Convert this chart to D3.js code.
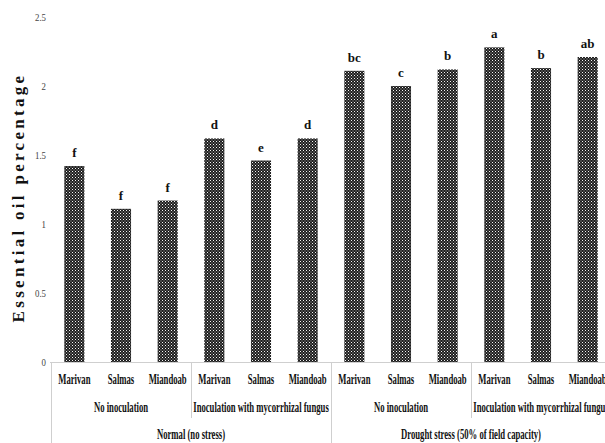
<!DOCTYPE html>
<html>
<head>
<meta charset="utf-8">
<script src="https://cdn.jsdelivr.net/npm/d3@7"></script>
<style>
  html, body { margin: 0; padding: 0; background: #fff; }
  svg { display: block; }
</style>
</head>
<body>
<svg id="chart" width="605" height="443"></svg>
<script>
// Essential oil percentage by ecotype, inoculation and irrigation regime
const ecotypes = ["Marivan", "Salmas", "Miandoab"];
const inoculations = ["No inoculation", "Inoculation with mycorrhizal fungus"];
const regimes = ["Normal (no stress)", "Drought stress (50% of field capacity)"];
const oilValues = [1.42, 1.11, 1.17, 1.62, 1.46, 1.62, 2.11, 2.00, 2.12, 2.28, 2.13, 2.21];
const letters = ["f", "f", "f", "d", "e", "d", "bc", "c", "b", "a", "b", "ab"];
const yTicks = [0, 0.5, 1, 1.5, 2, 2.5];
const yTitle = "Essential oil percentage";

const rows = oilValues.map((v, i) => ({
  id: i,
  ecotype: ecotypes[i % 3],
  inoc: inoculations[Math.floor(i / 3) % 2],
  regime: regimes[Math.floor(i / 6)],
  value: v,
  letter: letters[i]
}));

const svg = d3.select("#chart");
const plotLeft = 51, plotRight = 611, plotTop = 17, plotBase = 362;

const x = d3.scaleBand().domain(rows.map(d => d.id)).range([plotLeft, plotRight])
  .paddingInner(0.57).paddingOuter(0.285);
const step = (plotRight - plotLeft) / rows.length;
const y = d3.scaleLinear().domain([0, 2.5]).range([plotBase, plotTop]);

// Checkered fill used by every bar
const defs = svg.append("defs");
const pat = defs.append("pattern").attr("id", "checker")
  .attr("patternUnits", "userSpaceOnUse").attr("width", 3).attr("height", 3);
pat.append("rect").attr("width", 3).attr("height", 3).attr("fill", "#1e1e1e");
pat.append("rect").attr("x", 0).attr("y", 0).attr("width", 1).attr("height", 1).attr("fill", "#f4f4f4");
pat.append("rect").attr("x", 1.5).attr("y", 1.5).attr("width", 1).attr("height", 1).attr("fill", "#bdbdbd");

// Narrow text drawn by squeezing it horizontally around its anchor point
function narrowText(sel, px, py, f) {
  sel.attr("transform", d => `translate(${px(d)},${py(d)}) scale(${f},1)`)
    .attr("x", 0).attr("y", 0);
}

// Y axis: tick labels only
const yAxis = d3.axisLeft(y).tickValues(yTicks).tickSize(0).tickPadding(0)
  .tickFormat(d => d3.format("")(d));
const yg = svg.append("g").attr("transform", "translate(46,0)").call(yAxis);
yg.select(".domain").remove();
yg.selectAll("text")
  .attr("font-family", "Liberation Serif").attr("font-size", 11)
  .attr("fill", "#444").attr("dy", "0.32em")
  .attr("transform", "scale(0.8,1)");

// Y title
svg.append("text")
  .attr("transform", `translate(24,${(77 + 318) / 2}) rotate(-90)`)
  .attr("text-anchor", "middle")
  .attr("font-family", "Liberation Serif").attr("font-weight", "bold")
  .attr("font-size", 17).attr("letter-spacing", 3.3)
  .attr("fill", "#111")
  .text(yTitle);

// Bars
svg.append("g").selectAll("rect").data(rows).join("rect")
  .attr("x", d => x(d.id)).attr("width", x.bandwidth())
  .attr("y", d => y(d.value)).attr("height", d => y(0) - y(d.value))
  .attr("fill", "url(#checker)");

// Significance letters
svg.append("g").selectAll("text").data(rows).join("text")
  .attr("x", d => x(d.id) + x.bandwidth() / 2)
  .attr("y", d => y(d.value) - 9)
  .attr("text-anchor", "middle")
  .attr("font-family", "Liberation Serif").attr("font-weight", "bold")
  .attr("font-size", 13).attr("fill", "#111")
  .text(d => d.letter);

// Category axis frame
const lineCol = "#cfcfcf";
svg.append("line").attr("x1", plotLeft - 1).attr("x2", plotRight)
  .attr("y1", plotBase + 0.5).attr("y2", plotBase + 0.5)
  .attr("stroke", lineCol).attr("stroke-width", 1);
for (let k = 0; k <= 4; k++) {
  const xs = Math.round(plotLeft + k * 3 * step) + 0.5;
  const full = k % 2 === 0;
  svg.append("line").attr("x1", xs).attr("x2", xs)
    .attr("y1", plotBase).attr("y2", full ? 443 : 418)
    .attr("stroke", lineCol).attr("stroke-width", 1);
}

const labelFont = sel => sel.attr("font-family", "Liberation Serif").attr("font-weight", "bold")
  .attr("font-size", 14).attr("fill", "#111").attr("text-anchor", "middle");
const squeezeF = 0.62;

// Ecotype row
svg.append("g").selectAll("text").data(rows).join("text")
  .call(labelFont)
  .call(narrowText, d => x(d.id) + x.bandwidth() / 2, () => 384, squeezeF)
  .text(d => d.ecotype);

// Inoculation row
const inocGroups = d3.range(4).map(k => ({ k, label: inoculations[k % 2] }));
svg.append("g").selectAll("text").data(inocGroups).join("text")
  .call(labelFont)
  .call(narrowText, d => plotLeft + (d.k * 3 + 1.5) * step, () => 412, squeezeF)
  .text(d => d.label);

// Regime row
const regGroups = d3.range(2).map(k => ({ k, label: regimes[k] }));
svg.append("g").selectAll("text").data(regGroups).join("text")
  .call(labelFont)
  .call(narrowText, d => plotLeft + (d.k * 6 + 3) * step, () => 439, squeezeF)
  .text(d => d.label);
</script>
</body>
</html>
